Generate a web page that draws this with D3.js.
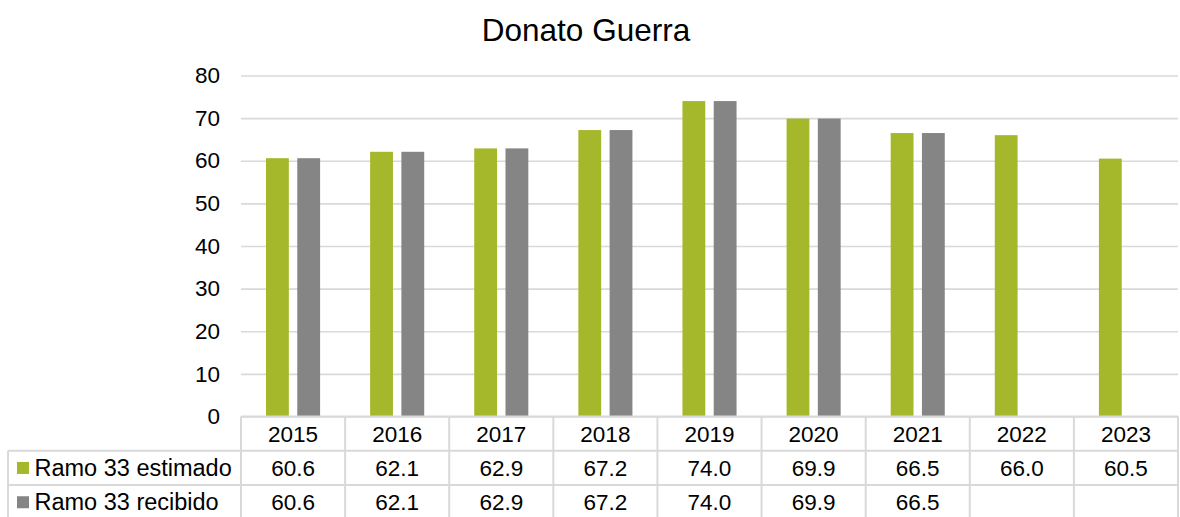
<!DOCTYPE html>
<html>
<head>
<meta charset="utf-8">
<script src="https://cdn.jsdelivr.net/npm/d3@7"></script>
<style>
  html, body { margin: 0; padding: 0; background: #fff; }
  svg { display: block; font-family: "Liberation Sans", Arial, sans-serif; }
</style>
</head>
<body>
<svg id="chart" width="1180" height="517"></svg>
<script>
const title = "Donato Guerra";
const years = ["2015", "2016", "2017", "2018", "2019", "2020", "2021", "2022", "2023"];
const seriesNames = ["Ramo 33 estimado", "Ramo 33 recibido"];
const estimado = [60.6, 62.1, 62.9, 67.2, 74.0, 69.9, 66.5, 66.0, 60.5];
const recibido = [60.6, 62.1, 62.9, 67.2, 74.0, 69.9, 66.5, null, null];
const yTicks = [0, 10, 20, 30, 40, 50, 60, 70, 80];
const colors = ["#a5b72a", "#858585"];

const svg = d3.select("#chart");
const plotLeft = 241, plotRight = 1178, plotTop = 75.5, plotBottom = 416.5;
const rowH = 34.3;
const gridColor = "#d9d9d9";

const x = d3.scaleBand().domain(years).range([plotLeft, plotRight]).padding(0);
const xs = d3.scaleBand().domain(seriesNames).range([0, x.bandwidth()]).paddingInner(0.27).paddingOuter(0.8);
const y = d3.scaleLinear().domain([0, 80]).range([plotBottom, plotTop]);

// title
svg.append("text").attr("x", 586).attr("y", 41).attr("text-anchor", "middle")
  .attr("font-size", 31.5).attr("fill", "#000").text(title);

// gridlines
const yAxis = d3.axisLeft(y).tickValues(yTicks).tickSize(-(plotRight - plotLeft)).tickFormat(d3.format("d"));
const gAxis = svg.append("g").attr("transform", `translate(${plotLeft},0)`).call(yAxis);
gAxis.select(".domain").remove();
gAxis.selectAll(".tick line").attr("stroke", gridColor).attr("stroke-width", 1.6);
gAxis.selectAll(".tick text").attr("x", -21).attr("font-size", 22.5).attr("fill", "#000")
  .attr("font-family", "Liberation Sans, Arial, sans-serif");

// bars
const data = [estimado, recibido];
data.forEach((vals, si) => {
  svg.append("g").selectAll("rect")
    .data(years.map((yr, i) => ({ yr, v: vals[i] })).filter(d => d.v != null))
    .join("rect")
    .attr("x", d => x(d.yr) + xs(seriesNames[si]))
    .attr("width", xs.bandwidth())
    .attr("y", d => y(d.v))
    .attr("height", d => y(0) - y(d.v))
    .attr("fill", colors[si]);
});

// data table
const tbl = svg.append("g");
const rowTop = [plotBottom, plotBottom + rowH, plotBottom + 2 * rowH];
const legendLeft = 8;
// horizontal lines
tbl.append("line").attr("x1", plotLeft).attr("x2", plotRight).attr("y1", rowTop[0]).attr("y2", rowTop[0]);
tbl.append("line").attr("x1", legendLeft).attr("x2", plotRight).attr("y1", rowTop[1]).attr("y2", rowTop[1]);
tbl.append("line").attr("x1", legendLeft).attr("x2", plotRight).attr("y1", rowTop[2]).attr("y2", rowTop[2]);
tbl.append("line").attr("x1", legendLeft).attr("x2", plotRight).attr("y1", rowTop[2] + rowH).attr("y2", rowTop[2] + rowH);
// vertical lines
years.forEach(yr => {
  tbl.append("line").attr("x1", x(yr)).attr("x2", x(yr)).attr("y1", rowTop[0]).attr("y2", 520);
});
tbl.append("line").attr("x1", plotRight).attr("x2", plotRight).attr("y1", rowTop[0]).attr("y2", 520);
tbl.append("line").attr("x1", legendLeft).attr("x2", legendLeft).attr("y1", rowTop[1]).attr("y2", 520);
tbl.selectAll("line").attr("stroke", gridColor).attr("stroke-width", 2);

// year labels
tbl.selectAll("text.yr").data(years).join("text").attr("class", "yr")
  .attr("x", d => x(d) + x.bandwidth() / 2).attr("y", rowTop[0] + rowH / 2 + 8)
  .attr("text-anchor", "middle").attr("font-size", 22.5).text(d => d);

// series rows
data.forEach((vals, si) => {
  const ry = rowTop[si + 1];
  tbl.append("rect").attr("x", 17).attr("y", ry + rowH / 2 - 6).attr("width", 12).attr("height", 12).attr("fill", colors[si]);
  tbl.append("text").attr("x", 34.5).attr("y", ry + rowH / 2 + 8).attr("font-size", 23.5).text(seriesNames[si]);
  tbl.append("g").selectAll("text")
    .data(years.map((yr, i) => ({ yr, v: vals[i] })).filter(d => d.v != null))
    .join("text")
    .attr("x", d => x(d.yr) + x.bandwidth() / 2).attr("y", ry + rowH / 2 + 8)
    .attr("text-anchor", "middle").attr("font-size", 22.5)
    .text(d => d3.format(".1f")(d.v));
});
</script>
</body>
</html>
